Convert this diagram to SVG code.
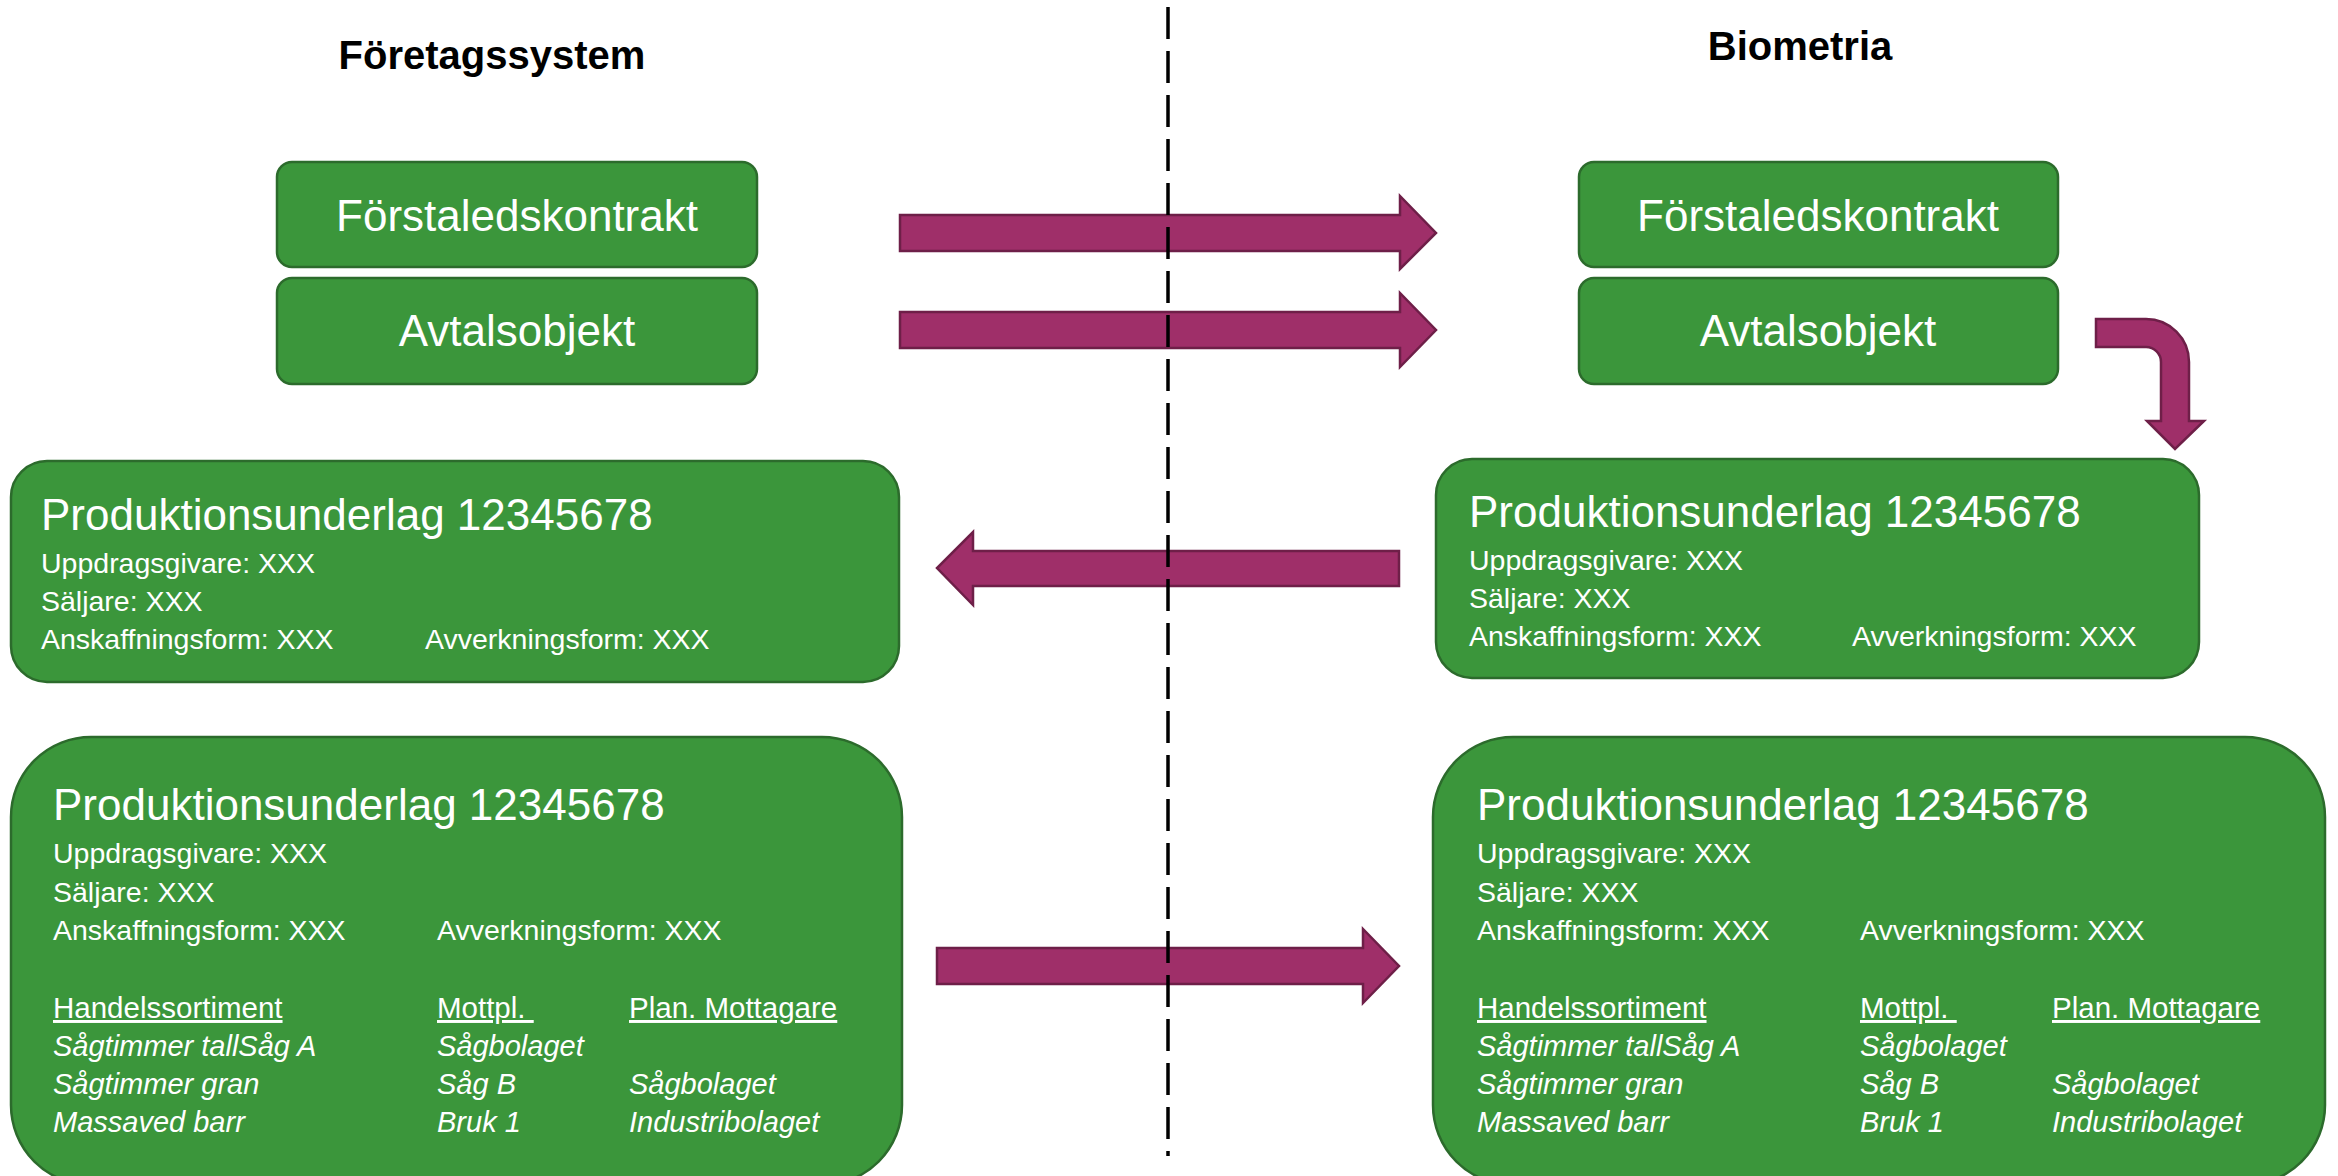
<svg xmlns="http://www.w3.org/2000/svg" width="2338" height="1176" viewBox="0 0 2338 1176">
<style>
.box{fill:#3b963b;stroke:#2c6b2c;stroke-width:2.5}
.arr{fill:#9f2f69;stroke:#6e1f48;stroke-width:2.5;stroke-linejoin:miter}
text{font-family:"Liberation Sans",Arial,sans-serif;fill:#ffffff}
.head{font-weight:bold;fill:#000000;font-size:40px;text-anchor:middle}
.lbl{font-size:44px;text-anchor:middle}
.ttl{font-size:44px}
.sm{font-size:28.5px}
.ul{font-size:29.5px;text-decoration:underline}
.it{font-size:29px;font-style:italic}
.sep{stroke:#000;stroke-width:3.5;stroke-dasharray:32 12;fill:none}
</style>
<rect width="2338" height="1176" fill="#ffffff"/>
<text class="head" x="492" y="69">Företagssystem</text>
<text class="head" x="1800" y="60">Biometria</text>

<g id="fs-forstaledskontrakt">
<rect class="box" x="277" y="162" width="480" height="105" rx="15"/>
<text class="lbl" x="517" y="231">Förstaledskontrakt</text>
</g>
<g id="fs-avtalsobjekt">
<rect class="box" x="277" y="278" width="480" height="106" rx="15"/>
<text class="lbl" x="517" y="346">Avtalsobjekt</text>
</g>
<g id="bio-forstaledskontrakt">
<rect class="box" x="1579" y="162" width="479" height="105" rx="15"/>
<text class="lbl" x="1818" y="231">Förstaledskontrakt</text>
</g>
<g id="bio-avtalsobjekt">
<rect class="box" x="1579" y="278" width="479" height="106" rx="15"/>
<text class="lbl" x="1818" y="346">Avtalsobjekt</text>
</g>

<g id="fs-produktionsunderlag">
<rect class="box" x="11" y="461" width="888" height="221" rx="36"/>
<text class="ttl" x="41" y="530">Produktionsunderlag 12345678</text>
<text class="sm" x="41" y="573">Uppdragsgivare: XXX</text>
<text class="sm" x="41" y="611">Säljare: XXX</text>
<text class="sm" x="41" y="649">Anskaffningsform: XXX</text>
<text class="sm" x="425" y="649">Avverkningsform: XXX</text>
</g>
<g id="bio-produktionsunderlag">
<rect class="box" x="1436" y="459" width="763" height="219" rx="36"/>
<text class="ttl" x="1469" y="527">Produktionsunderlag 12345678</text>
<text class="sm" x="1469" y="570">Uppdragsgivare: XXX</text>
<text class="sm" x="1469" y="608">Säljare: XXX</text>
<text class="sm" x="1469" y="646">Anskaffningsform: XXX</text>
<text class="sm" x="1852" y="646">Avverkningsform: XXX</text>
</g>

<g id="fs-produktionsunderlag-detalj">
<rect class="box" x="11" y="737" width="891" height="448" rx="80"/>
<text class="ttl" x="53" y="820">Produktionsunderlag 12345678</text>
<text class="sm" x="53" y="863">Uppdragsgivare: XXX</text>
<text class="sm" x="53" y="902">Säljare: XXX</text>
<text class="sm" x="53" y="940">Anskaffningsform: XXX</text>
<text class="sm" x="437" y="940">Avverkningsform: XXX</text>
<text class="ul" x="53" y="1018">Handelssortiment</text>
<text class="ul" x="437" y="1018" xml:space="preserve">Mottpl. </text>
<text class="ul" x="629" y="1018">Plan. Mottagare</text>
<text class="it" x="53" y="1056">Sågtimmer tallSåg A</text>
<text class="it" x="437" y="1056">Sågbolaget</text>
<text class="it" x="53" y="1094">Sågtimmer gran</text>
<text class="it" x="437" y="1094">Såg B</text>
<text class="it" x="629" y="1094">Sågbolaget</text>
<text class="it" x="53" y="1132">Massaved barr</text>
<text class="it" x="437" y="1132">Bruk 1</text>
<text class="it" x="629" y="1132">Industribolaget</text>
</g>
<g id="bio-produktionsunderlag-detalj">
<rect class="box" x="1433" y="737" width="892" height="448" rx="80"/>
<text class="ttl" x="1477" y="820">Produktionsunderlag 12345678</text>
<text class="sm" x="1477" y="863">Uppdragsgivare: XXX</text>
<text class="sm" x="1477" y="902">Säljare: XXX</text>
<text class="sm" x="1477" y="940">Anskaffningsform: XXX</text>
<text class="sm" x="1860" y="940">Avverkningsform: XXX</text>
<text class="ul" x="1477" y="1018">Handelssortiment</text>
<text class="ul" x="1860" y="1018" xml:space="preserve">Mottpl. </text>
<text class="ul" x="2052" y="1018">Plan. Mottagare</text>
<text class="it" x="1477" y="1056">Sågtimmer tallSåg A</text>
<text class="it" x="1860" y="1056">Sågbolaget</text>
<text class="it" x="1477" y="1094">Sågtimmer gran</text>
<text class="it" x="1860" y="1094">Såg B</text>
<text class="it" x="2052" y="1094">Sågbolaget</text>
<text class="it" x="1477" y="1132">Massaved barr</text>
<text class="it" x="1860" y="1132">Bruk 1</text>
<text class="it" x="2052" y="1132">Industribolaget</text>
</g>

<g id="connectors">
<path class="arr" d="M900,215 H1400 V196 L1436,233 L1400,269 V251 H900 Z"/>
<path class="arr" d="M900,312 H1400 V293 L1436,330 L1400,367 V348 H900 Z"/>
<path class="arr" d="M1399,551 H973 V532 L937,568 L973,605 V586 H1399 Z"/>
<path class="arr" d="M937,948 H1363 V929 L1399,966 L1363,1003 V984 H937 Z"/>
<path class="arr" d="M2096,319 H2146 A43,43 0 0 1 2189,362 V421 H2204 L2175,449 L2147,421 H2161 V362 A15,15 0 0 0 2146,347 H2096 Z"/>
</g>
<line class="sep" x1="1168" y1="7" x2="1168" y2="1156"/>
</svg>
